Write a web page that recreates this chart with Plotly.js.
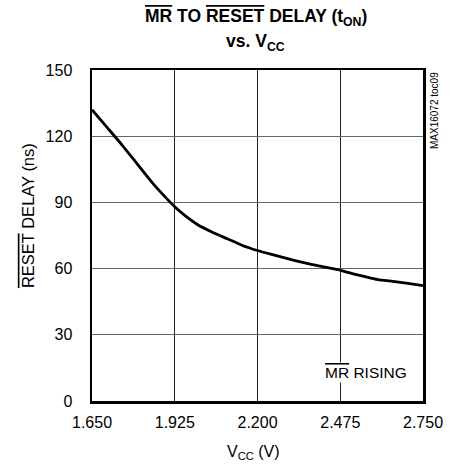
<!DOCTYPE html>
<html><head><meta charset="utf-8">
<script src="https://cdn.plot.ly/plotly-3.0.1.min.js"></script>
<style>html,body{margin:0;padding:0;background:#fff}</style>
</head><body>
<div id="chart" style="width:454px;height:464px"></div>
<script>
const vcc = [1.65,1.70,1.75,1.80,1.85,1.90,1.925,1.95,2.00,2.05,2.10,2.15,2.20,2.25,2.30,2.35,2.40,2.45,2.475,2.50,2.55,2.60,2.65,2.70,2.75];
const delay = [132,124,116,107.5,99,91.5,88,85,80,76.5,73.5,70.5,68.2,66.3,64.5,62.8,61.3,60,59.3,58.3,56.6,55,54.2,53.3,52.3];
const xTicks = [1.650,1.925,2.200,2.475,2.750];
const xTickText = ['1.650','1.925','2.200','2.475','2.750'];
const yTicks = [0,30,60,90,120,150];

const OL = s => '<span style="text-decoration:overline">'+s+'</span>';
const FONT = '"Liberation Sans Narrow", "Arial Narrow", "Liberation Sans", Arial, sans-serif';
const TFONT = '"Liberation Sans", Arial, sans-serif';

const trace = {x: vcc, y: delay, type:'scatter', mode:'lines', line:{color:'#000', width:2.8, shape:'spline', smoothing:0.6}, hoverinfo:'skip'};

const layout = {
  width:454, height:464,
  margin:{l:91.5, r:31, t:70, b:63},
  paper_bgcolor:'#fff', plot_bgcolor:'#fff',
  showlegend:false,
  font:{family:FONT, size:16, color:'#000'},
  xaxis:{range:[1.65,2.75], tickvals:xTicks, ticktext:xTickText, showgrid:true, gridcolor:'#222', gridwidth:1, zeroline:false,
    showline:true, linecolor:'#000', linewidth:2.5, mirror:true, ticks:'outside', ticklen:5, tickcolor:'rgba(0,0,0,0)', tickfont:{size:16}},
  yaxis:{range:[0,150], tickvals:yTicks, showgrid:true, gridcolor:'#666', gridwidth:1, zeroline:false,
    showline:true, linecolor:'#000', linewidth:2.5, mirror:true, ticks:'outside', ticklen:14, tickcolor:'rgba(0,0,0,0)', tickfont:{size:16}},
  annotations:[
    {text:'<b>'+OL('MR')+' TO '+OL('RESET')+' DELAY (t<sub>ON</sub>)</b>', xref:'paper', yref:'paper', x:0.495, y:1.16, xanchor:'center', yanchor:'middle', showarrow:false, font:{family:TFONT, size:17.5}},
    {text:'<b>vs. V<sub>CC</sub></b>', xref:'paper', yref:'paper', x:0.495, y:1.0816, xanchor:'center', yanchor:'middle', showarrow:false, font:{family:TFONT, size:17.5}},
    {text:OL('RESET')+' DELAY (ns)', xref:'paper', yref:'paper', x:-0.195, y:0.56, xanchor:'center', yanchor:'middle', textangle:-90, showarrow:false, font:{size:16.5}},
    {text:'V<sub>CC</sub> (V)', xref:'paper', yref:'paper', x:0.487, y:-0.155, xanchor:'center', yanchor:'middle', showarrow:false, font:{size:16}},
    {text:OL('MR')+' RISING', xref:'x', yref:'y', x:2.475, y:12.9, xanchor:'center', yanchor:'middle', showarrow:false, bgcolor:'#fff', font:{size:15.5}, borderpad:1, xshift:26},
    {text:'MAX16072 toc09', xref:'paper', yref:'paper', x:1.0, y:1.0, xanchor:'left', yanchor:'top', xshift:4, textangle:-90, showarrow:false, font:{size:10}}
  ]
};
Plotly.newPlot('chart', [trace], layout, {displayModeBar:false, staticPlot:true});
</script>
</body></html>
